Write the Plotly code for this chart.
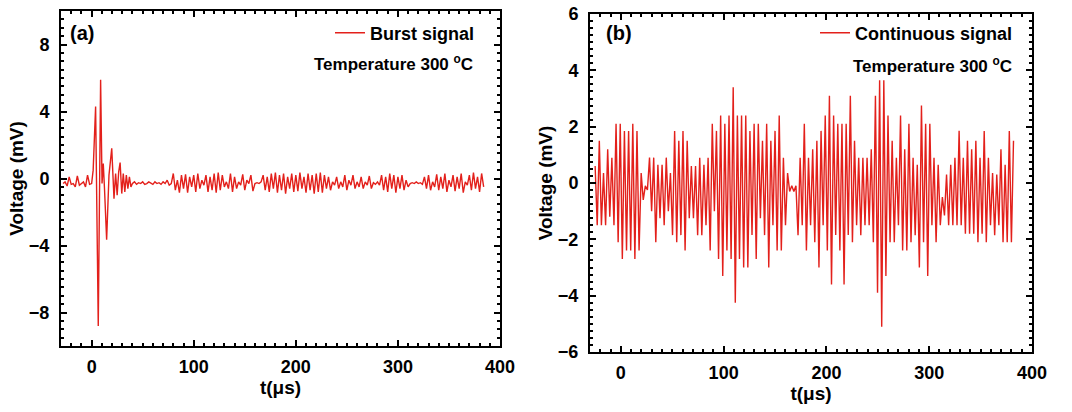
import plotly.graph_objects as go

# ---------------- data: panel (a) burst signal ----------------
PRE_T0, PRE_DT = -28.0, 2.0
PRE_V = [-0.3, -0.2, -0.45, 0.1, -0.35, -0.3, -0.5, 0.15, -0.4, -0.3, -0.2, -0.5, 0.2, -0.35]

BURST_T = [0, 1.5, 3.9, 6.5, 8.8, 10.2, 11.4, 12.6, 14.7, 17.0, 19.7, 21.9, 23.5, 25.0,
           26.5, 27.9, 29.5, 31.0, 32.5, 34.0, 35.5, 37.0, 38.5]
BURST_V = [-0.3, 0.5, 4.3, -8.8, 5.9, -0.3, 0.9, -0.6, -3.65, 0.2, 1.8, -1.2, 0.3, -1.0,
           0.4, 0.95, -0.9, 0.3, -0.8, 0.2, -0.6, 0.1, -0.5]

POST_T0, POST_DT = 40.0, 2.0
POST_V = [-0.3, -0.2, -0.35, -0.25, -0.3, -0.2, -0.35, -0.3, -0.2, -0.3,
          -0.35, -0.2, -0.3, -0.25, -0.35, -0.2, -0.3, -0.1, -0.4, -0.3,
          0.3, -0.7, -0.1, -0.85, 0.2, -0.6, 0.25, -0.85, 0.1, -0.5,
          0.2, -0.8, 0.3, -0.6, -0.1, -0.4, 0.2, -0.8, 0.1, -0.7,
          0.3, -0.85, 0.35, -0.7, 0.2, -0.5, -0.2, -0.6, 0.3, -0.8,
          0.1, -0.6, -0.2, -0.4, 0.25, -0.7, -0.1, -0.3, 0.2, -0.75,
          -0.3, -0.25, -0.3, -0.2, 0.2, -0.7, 0.1, -0.8, 0.3, -0.6,
          0.35, -0.85, 0.2, -0.7, 0.3, -0.9, 0.1, -0.6, 0.3, -0.8,
          0.2, -0.75, 0.35, -0.6, 0.1, -0.85, 0.3, -0.7, 0.2, -0.9,
          0.3, -0.8, 0.35, -0.85, 0.2, -0.6, 0.1, -0.7, -0.2, -0.4,
          0.1, -0.6, -0.2, -0.5, 0.2, -0.7, -0.1, -0.4, 0.2, -0.6,
          -0.2, -0.5, 0.1, -0.6, -0.2, -0.4, 0.15, -0.6, -0.25, -0.35,
          -0.2, -0.4, 0.2, -0.7, 0.1, -0.8, 0.3, -0.6, 0.2, -0.85,
          0.1, -0.6, 0.2, -0.7, -0.1, -0.5, -0.3, -0.25, -0.3, -0.2,
          -0.3, -0.25, -0.35, 0.1, -0.6, 0.2, -0.7, -0.2, -0.5, 0.25,
          -0.7, 0.1, -0.6, 0.3, -0.8, -0.1, -0.5, 0.2, -0.75, 0.1,
          -0.6, 0.3, -0.85, -0.2, -0.4, 0.2, -0.7, 0.35, -0.6, 0.1,
          -0.8, 0.3, -0.5]

# ---------------- data: panel (b) continuous signal ----------------
CONT_T0, CONT_DT = -25.0, 2.035
CONT_PEAKS = [0.6, 1.5, 0.35, 1.2, 0.9, 2.1, 2.1, 1.85, 1.85, 2.1,
              1.85, 0.35, -0.1, 0.9, 0.9, 0.65, 0.65, 0.9, 0.35, 1.85,
              1.5, 1.85, 1.5, 0.6, 0.6, 0.9, 0.65, 0.9, 2.1, 1.85,
              2.4, 2.1, 2.4, 3.4, 2.4, 2.4, 2.4, 1.85, 2.1, 2.1,
              1.5, 2.1, 1.5, 1.85, 2.4, 0.9, 0.35, -0.1, -0.1, 0.9,
              2.1, 0.9, 1.2, 1.5, 1.85, 2.4, 3.1, 2.4, 2.1, 2.1,
              2.1, 3.1, 1.5, 0.9, 0.9, 0.9, 1.2, 3.1, 3.65, 3.65,
              2.4, 1.5, 0.9, 2.4, 1.2, 2.1, 0.9, 0.65, 2.75, 2.1,
              2.1, 0.9, 0.65, -0.5, 0.3, 0.65, 0.9, 1.85, 0.9, 1.5,
              1.2, 1.5, 0.9, 1.85, 0.9, 0.35, 0.3, 1.2, 0.65, 1.85,
              1.5]
CONT_TROUGHS = [-1.5, -1.5, -1.5, -1.2, -1.5, -2.1, -2.7, -2.4, -2.4, -2.7,
                -2.4, -0.6, -0.25, -1.0, -2.1, -1.25, -1.5, -1.0, -1.85, -2.1,
                -1.85, -2.4, -1.25, -1.25, -1.85, -1.85, -1.5, -2.4, -1.0, -2.7,
                -3.3, -2.4, -2.7, -4.25, -2.7, -3.0, -3.0, -1.85, -2.7, -1.25,
                -1.85, -3.0, -1.5, -2.4, -2.4, -1.5, -0.3, -0.3, -1.85, -1.5,
                -2.4, -1.5, -2.1, -3.0, -1.5, -2.4, -3.6, -1.85, -2.4, -3.6,
                -1.85, -2.1, -1.5, -1.85, -1.5, -1.5, -2.1, -3.9, -5.1, -3.3,
                -2.1, -2.1, -1.5, -2.4, -2.4, -2.1, -1.85, -3.0, -2.1, -3.3,
                -1.5, -2.1, -1.5, -1.15, -1.5, -1.5, -1.5, -1.5, -1.8, -1.8,
                -1.8, -2.1, -1.8, -2.1, -1.5, -1.85, -1.5, -2.1, -2.1, -2.1]

X_TICKS = [0, 100, 200, 300, 400]
Y_TICKS_A = [-8, -4, 0, 4, 8]
Y_TICKS_B = [-6, -4, -2, 0, 2, 4, 6]

# ---------------- assemble series ----------------
ta = [PRE_T0 + i * PRE_DT for i in range(len(PRE_V))] + BURST_T + \
     [POST_T0 + i * POST_DT for i in range(len(POST_V))]
va = PRE_V + BURST_V + POST_V

vb = []
for i, p in enumerate(CONT_PEAKS):
    vb.append(p)
    if i < len(CONT_TROUGHS):
        vb.append(CONT_TROUGHS[i])
tb = [CONT_T0 + i * CONT_DT for i in range(len(vb))]

RED = "#e3201b"
FONT = "Liberation Sans, Arial, sans-serif"
W, H = 1072, 412

fig = go.Figure()
fig.add_trace(go.Scatter(x=ta, y=va, mode="lines", name="Burst signal",
                         line=dict(color=RED, width=1.4), xaxis="x", yaxis="y",
                         legend="legend"))
fig.add_trace(go.Scatter(x=tb, y=vb, mode="lines", name="Continuous signal",
                         line=dict(color=RED, width=1.4), xaxis="x2", yaxis="y2",
                         legend="legend2"))

tickfont = dict(family=FONT, size=18, color="black", weight="bold")
titlefont = dict(family=FONT, size=19, color="black", weight="bold")
common = dict(showline=True, linecolor="black", linewidth=2, mirror="allticks",
              ticks="inside", ticklen=6, tickwidth=2, tickcolor="black",
              showgrid=False, zeroline=False, tickfont=tickfont,
              automargin=False)


def lin(vals):
    return dict(tickmode="linear", tick0=vals[0], dtick=vals[1] - vals[0])


def xax(domain, anchor):
    return dict(common, domain=domain, anchor=anchor, range=[-30, 400], **lin(X_TICKS),
                ticklabelstandoff=3,
                minor=dict(ticks="inside", ticklen=3, tickwidth=1.5, tickcolor="black",
                           tick0=0, dtick=10, showgrid=False),
                title=dict(text="t(\u03bcs)", font=titlefont, standoff=5))


def yax(domain, anchor, rng, vals, mdt):
    return dict(common, domain=domain, anchor=anchor, range=rng, **lin(vals),
                ticklabelstandoff=6,
                minor=dict(ticks="inside", ticklen=3, tickwidth=1.5, tickcolor="black",
                           tick0=0, dtick=mdt, showgrid=False),
                title=dict(text="Voltage (mV)", font=titlefont, standoff=0))


xa_dom = [61 / W, 500 / W]
xb_dom = [590 / W, 1032 / W]
ya_dom = [1 - 346 / H, 1 - 11 / H]
yb_dom = [1 - 352 / H, 1 - 14 / H]

legfont = dict(family=FONT, size=18, color="black", weight="bold")
fig.update_layout(
    width=W, height=H,
    margin=dict(l=0, r=0, t=0, b=0),
    paper_bgcolor="white", plot_bgcolor="white",
    showlegend=True,
    xaxis=xax(xa_dom, "y"),
    yaxis=yax(ya_dom, "x", [-10, 10], Y_TICKS_A, 0.5),
    xaxis2=xax(xb_dom, "y2"),
    yaxis2=yax(yb_dom, "x2", [-6, 6], Y_TICKS_B, 0.25),
    legend=dict(x=480 / W, y=1 - 33 / H, xanchor="right", yanchor="middle",
                bgcolor="rgba(0,0,0,0)", font=legfont, itemwidth=30),
    legend2=dict(x=1017 / W, y=1 - 33 / H, xanchor="right", yanchor="middle",
                 bgcolor="rgba(0,0,0,0)", font=legfont, itemwidth=30),
    annotations=[
        dict(text="(a)", x=68 / W, y=1 - 33 / H, xref="paper", yref="paper",
             xanchor="left", yanchor="middle", showarrow=False,
             font=dict(family=FONT, size=20, color="black", weight="bold")),
        dict(text="(b)", x=604 / W, y=1 - 33 / H, xref="paper", yref="paper",
             xanchor="left", yanchor="middle", showarrow=False,
             font=dict(family=FONT, size=20, color="black", weight="bold")),
        dict(text="Temperature 300 <sup>o</sup>C", x=475 / W, y=1 - 63 / H,
             xref="paper", yref="paper", xanchor="right", yanchor="middle",
             showarrow=False, font=dict(family=FONT, size=17, color="black", weight="bold")),
        dict(text="Temperature 300 <sup>o</sup>C", x=1014 / W, y=1 - 65 / H,
             xref="paper", yref="paper", xanchor="right", yanchor="middle",
             showarrow=False, font=dict(family=FONT, size=17, color="black", weight="bold")),
    ],
)

fig.write_html("out.html", config={"displayModeBar": False},
               post_script="document.body.style.margin='0';document.body.style.overflow='hidden';")
